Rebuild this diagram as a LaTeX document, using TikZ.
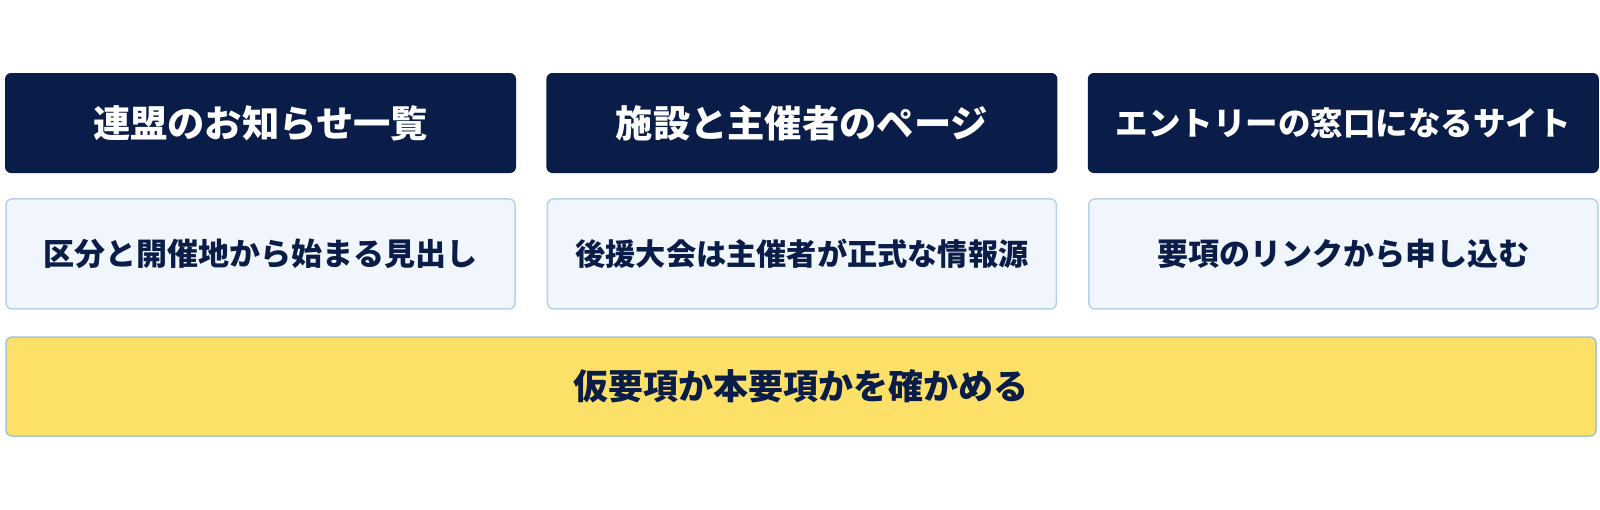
\documentclass[tikz,border=0pt]{standalone}
\usepackage{fontspec}
\setmainfont{Noto Sans CJK JP}
\usetikzlibrary{positioning}
\definecolor{navy}{HTML}{0A1C48}
\definecolor{paleblue}{HTML}{F1F6FC}
\definecolor{lineblue}{HTML}{B8D2EA}
\definecolor{notice}{HTML}{FDE068}
\definecolor{noticeline}{HTML}{A3C6D4}
\begin{document}
\begin{tikzpicture}[x=1pt, y=-1pt, every node/.style={inner sep=0pt, font=\bfseries},
    head node/.style={rectangle, rounded corners=6pt, fill=navy, text=white, minimum width=511pt, minimum height=100pt, font=\bfseries\fontsize{37.3}{40}\selectfont},
    note node/.style={rectangle, rounded corners=6pt, draw=lineblue, line width=1.5pt, fill=paleblue, text=navy, minimum width=509pt, minimum height=110pt, font=\bfseries\fontsize{31}{34}\selectfont},
    check node/.style={rectangle, rounded corners=6pt, draw=noticeline, line width=1.5pt, fill=notice, text=navy, minimum width=1590pt, minimum height=99pt, font=\bfseries\fontsize{35}{38}\selectfont}]
\useasboundingbox[fill=white] (0,0) rectangle (1600,509);
\node[head node] (h1) at (260.5,123) {連盟のお知らせ一覧};
\node[head node, right=30pt of h1] (h2) {施設と主催者のページ};
\node[head node, right=30pt of h2, font=\bfseries\fontsize{32.5}{36}\selectfont] (h3) {エントリーの窓口になるサイト};
\node[note node, below=25pt of h1] (n1) {区分と開催地から始まる見出し};
\node[note node, below=25pt of h2, font=\bfseries\fontsize{30.2}{34}\selectfont] (n2) {後援大会は主催者が正式な情報源};
\node[note node, below=25pt of h3] (n3) {要項のリンクから申し込む};
\node[check node] (c) at (801,386.5) {仮要項か本要項かを確かめる};
\end{tikzpicture}
\end{document}
